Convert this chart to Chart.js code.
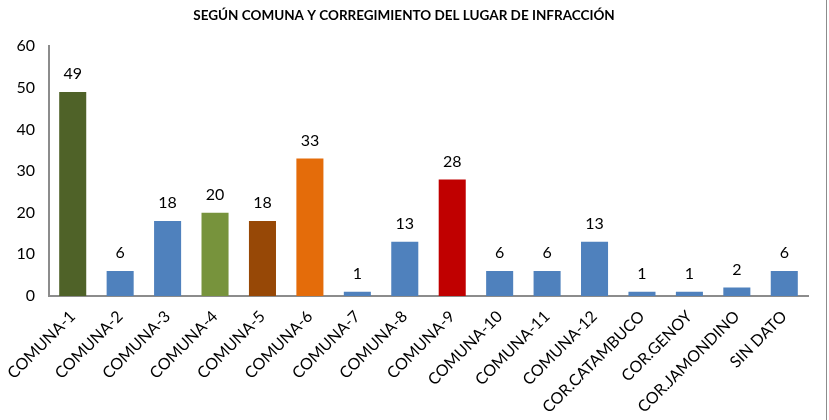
<!DOCTYPE html>
<html>
<head>
<meta charset="utf-8">
<script src="https://cdn.jsdelivr.net/npm/chart.js@4/dist/chart.umd.min.js"></script>
<style>
    body { margin: 0; background: #fff; }
    #wrap { width: 829px; height: 420px; position: relative; }
</style>
</head>
<body>
<div id="wrap"><canvas id="grafico"></canvas></div>
<script>
// datos
var categorias = ['COMUNA-1', 'COMUNA-2', 'COMUNA-3', 'COMUNA-4', 'COMUNA-5', 'COMUNA-6', 'COMUNA-7', 'COMUNA-8',
    'COMUNA-9', 'COMUNA-10', 'COMUNA-11', 'COMUNA-12', 'COR.CATAMBUCO', 'COR.GENOY', 'COR.JAMONDINO', 'SIN DATO'];
var valores = [49, 6, 18, 20, 18, 33, 1, 13, 28, 6, 6, 13, 1, 1, 2, 6];
var colores = ['#4F6228', '#4F81BD', '#4F81BD', '#77933C', '#974806', '#E46C0A', '#4F81BD', '#4F81BD',
    '#C00000', '#4F81BD', '#4F81BD', '#4F81BD', '#4F81BD', '#4F81BD', '#4F81BD', '#4F81BD'];
var titulo = 'SEGÚN COMUNA Y CORREGIMIENTO DEL LUGAR DE INFRACCIÓN';

var fuente = 'Lato, "Liberation Sans", sans-serif';

// etiquetas encima de las barras
var etiquetas = {
    id: 'etiquetas',
    afterDatasetsDraw: function (chart) {
        var ctx = chart.ctx;
        var meta = chart.getDatasetMeta(0);
        ctx.save();
        ctx.font = '16px ' + fuente;
        ctx.fillStyle = '#000';
        ctx.textAlign = 'center';
        ctx.textBaseline = 'middle';
        meta.data.forEach(function (bar, i) {
            ctx.fillText(valores[i], bar.x, bar.y - 18);
        });
        ctx.restore();
    }
};

// linea del borde derecho
var borde = {
    id: 'borde',
    afterDraw: function (chart) {
        var ctx = chart.ctx;
        ctx.save();
        ctx.strokeStyle = '#8c8c8c';
        ctx.lineWidth = 1;
        ctx.beginPath();
        ctx.moveTo(826.5, 0);
        ctx.lineTo(826.5, 420);
        ctx.stroke();
        ctx.restore();
    }
};

new Chart(document.getElementById('grafico'), {
    type: 'bar',
    data: {
        labels: categorias,
        datasets: [{
            data: valores,
            backgroundColor: colores,
            barPercentage: 0.57,
            categoryPercentage: 1
        }]
    },
    options: {
        responsive: true,
        maintainAspectRatio: false,
        animation: false,
        layout: { padding: { left: 0, right: 21, top: 0, bottom: 0 } },
        plugins: {
            legend: { display: false },
            tooltip: { enabled: false },
            title: {
                display: true,
                text: titulo,
                color: '#000',
                font: { family: fuente, size: 13.5, weight: 'bold' },
                padding: { top: 8, bottom: 22 }
            }
        },
        scales: {
            x: {
                grid: { display: false },
                border: { display: true, color: '#8c8c8c', width: 2 },
                afterFit: function (scale) { scale.paddingLeft = 0; },
                ticks: {
                    color: '#000',
                    font: { family: fuente, size: 16 },
                    minRotation: 45,
                    maxRotation: 45,
                    autoSkip: false
                }
            },
            y: {
                min: 0,
                max: 60,
                grid: { display: false, drawTicks: false },
                border: { display: true, color: '#8c8c8c', width: 2 },
                afterFit: function (scale) { scale.width = 49; },
                ticks: {
                    stepSize: 10,
                    color: '#000',
                    font: { family: fuente, size: 16 },
                    padding: 14
                }
            }
        }
    },
    plugins: [etiquetas, borde]
});
</script>
</body>
</html>
